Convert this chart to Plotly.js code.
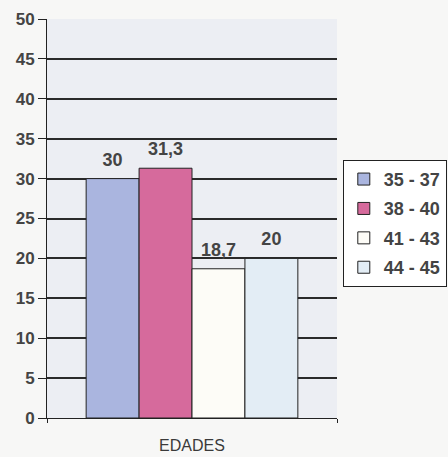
<!DOCTYPE html>
<html><head><meta charset="utf-8">
<script src="https://cdn.plot.ly/plotly-3.0.1.min.js"></script>
<style>html,body{margin:0;padding:0;background:#f7f7f6;}</style>
</head><body>
<div id="chart" style="width:448px;height:457px;"></div>
<script>
var category = ['EDADES'];
var seriesNames = ['35 - 37', '38 - 40', '41 - 43', '44 - 45'];
var seriesValues = [30, 31.3, 18.7, 20];
var seriesColors = ['#aab5df', '#d66a9c', '#fdfcf7', '#e3edf5'];

var traces = seriesNames.map(function(n, i){
  return {
    type: 'bar', name: n, legendgroup: n,
    x: category, y: [seriesValues[i]],
    marker: {color: seriesColors[i], line: {color: '#222', width: 1}},
    texttemplate: '<span style="font-size:18px;font-weight:bold">%{y}</span><br> ',
    textposition: 'outside',
    textfont: {family: 'Liberation Sans, Arial, sans-serif', size: 7, color: '#444'},
    cliponaxis: false
  };
});

var layout = {
  width: 448, height: 457,
  margin: {l: 47, r: 111, t: 19, b: 39, autoexpand: false},
  paper_bgcolor: '#f7f7f6', plot_bgcolor: '#eceef3',
  separators: ', ',
  font: {family: 'Liberation Sans, Arial, sans-serif', size: 13, color: '#444'},
  barmode: 'group', bargap: 0.27, bargroupgap: 0,
  showlegend: true,
  legend: {x: 1.02, y: 0.647, xanchor: 'left', yanchor: 'top',
    bgcolor: '#ffffff', bordercolor: '#222', borderwidth: 1,
    traceorder: 'grouped', tracegroupgap: 3, itemwidth: 30,
    font: {size: 18, color: '#444', weight: 'bold'}},
  xaxis: {type: 'category', showline: true, linecolor: '#222', linewidth: 1,
    ticks: 'outside', tickson: 'boundaries', ticklen: 4, tickcolor: '#222',
    ticklabelstandoff: 13, showgrid: false,
    tickfont: {size: 16, color: '#3a3a3a'}},
  yaxis: {range: [0, 50], dtick: 5, showline: true, linecolor: '#222', linewidth: 1,
    ticks: 'outside', ticklen: 8, tickcolor: '#222',
    showgrid: true, gridcolor: '#2a2a2a', gridwidth: 2, zeroline: false,
    tickfont: {size: 17, color: '#444', weight: 'bold'}}
};
Plotly.newPlot('chart', traces, layout, {displayModeBar: false, staticPlot: true});
</script>
</body></html>
